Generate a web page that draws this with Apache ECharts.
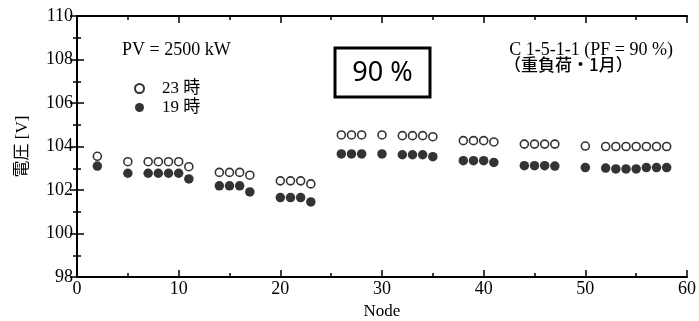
<!DOCTYPE html>
<html><head><meta charset="utf-8">
<script src="https://cdn.jsdelivr.net/npm/echarts@6/dist/echarts.min.js"></script>
<style>html,body{margin:0;padding:0;background:#fff}#c{width:699px;height:321px}</style>
</head><body><div id="c"></div>
<script>
const nodes = [2,5,7,8,9,10,11,14,15,16,17,20,21,22,23,26,27,28,30,32,33,34,35,38,39,40,41,44,45,46,47,50,52,53,54,55,56,57,58];
const h23 = [103.55,103.3,103.3,103.3,103.3,103.3,103.07,102.81,102.81,102.81,102.68,102.42,102.42,102.42,102.28,104.53,104.53,104.53,104.53,104.5,104.5,104.5,104.45,104.27,104.27,104.27,104.21,104.11,104.11,104.11,104.11,104.02,104.0,104.0,104.0,104.0,104.0,104.0,104.0];
const h19 = [103.1,102.77,102.77,102.77,102.77,102.77,102.51,102.19,102.19,102.19,101.91,101.65,101.65,101.65,101.45,103.66,103.66,103.66,103.66,103.62,103.62,103.62,103.53,103.35,103.35,103.35,103.27,103.12,103.12,103.12,103.1,103.03,103.01,102.97,102.97,102.97,103.03,103.03,103.03];
const seriesNames = ['23 時','19 時'];
const xTitle = 'Node';
const yTitle = '電圧 [V]';

const serif = '"Liberation Serif","Times New Roman","Noto Sans CJK JP",serif';
const chart = echarts.init(document.getElementById('c'), null, {renderer:'canvas'});
const axisLine = {show:true, lineStyle:{color:'#000', width:2}};
const tick = {inside:true, length:7, lineStyle:{color:'#000', width:1.5}};
const minor = {show:true, splitNumber:2, length:4, lineStyle:{color:'#000', width:1.5}};
chart.setOption({
  animation:false,
  backgroundColor:'#fff',
  grid:{left:77, right:12, top:16, bottom:44, containLabel:false, outerBoundsMode:'none'},
  legend:{
    orient:'vertical', left:129, top:75, itemGap:2, itemWidth:9, itemHeight:9,
    textStyle:{fontFamily:serif, fontSize:17, color:'#000', padding:[0,0,0,13]},
    data:[{name:seriesNames[0], icon:'circle', itemStyle:{borderWidth:2}},{name:seriesNames[1], icon:'circle'}]
  },
  xAxis:[{
    type:'value', min:0, max:60, interval:10, position:'bottom',
    name:xTitle, nameLocation:'middle', nameGap:26,
    nameTextStyle:{fontFamily:serif, fontSize:17, color:'#000'},
    axisLine, axisTick:tick, minorTick:minor, splitLine:{show:false},
    axisLabel:{fontFamily:serif, fontSize:18, color:'#000', margin:3}
  },{
    type:'value', min:0, max:60, interval:10, position:'top',
    axisLine, axisTick:tick, minorTick:minor, splitLine:{show:false}, axisLabel:{show:false}
  }],
  yAxis:[{
    type:'value', min:98, max:110, interval:2, position:'left',
    name:yTitle, nameLocation:'middle', nameGap:46, nameRotate:90,
    nameTextStyle:{fontFamily:serif, fontSize:17, color:'#000'},
    axisLine, axisTick:tick, minorTick:minor, splitLine:{show:false},
    axisLabel:{fontFamily:serif, fontSize:18, color:'#000', margin:4}
  },{
    type:'value', min:98, max:110, interval:2, position:'right',
    axisLine, axisTick:tick, minorTick:minor, splitLine:{show:false}, axisLabel:{show:false}
  }],
  series:[{
    name:seriesNames[0], type:'scatter', symbol:'circle', symbolSize:8,
    itemStyle:{color:'#fff', borderColor:'#000', borderWidth:1.6},
    data:nodes.map((n,i)=>[n,h23[i]])
  },{
    name:seriesNames[1], type:'scatter', symbol:'circle', symbolSize:9.5,
    itemStyle:{color:'#000', borderColor:'#000', borderWidth:0},
    data:nodes.map((n,i)=>[n,h19[i]])
  }],
  graphic:[
    {type:'text', left:122, top:41, style:{text:'PV = 2500 kW', font:'18px '+serif, fill:'#000'}},
    {type:'rect', shape:{x:335, y:48, width:95, height:49}, style:{fill:'#fff', stroke:'#000', lineWidth:3}},
    {type:'text', x:382.5, y:73, style:{text:'90 %', font:'27px "Noto Sans","Open Sans",sans-serif', fill:'#000', align:'center', verticalAlign:'middle'}},
    {type:'text', right:26, top:41, style:{text:'C 1-5-1-1 (PF = 90 %)', font:'18px '+serif, fill:'#000'}},
    {type:'text', left:504, top:56, style:{text:'（重負荷・1月）', font:'500 17px "Noto Sans CJK JP",sans-serif', fill:'#000'}}
  ]
});
</script></body></html>
